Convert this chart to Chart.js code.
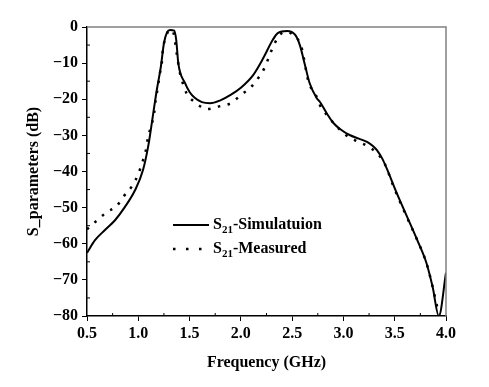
<!DOCTYPE html>
<html>
<head>
<meta charset="utf-8">
<script src="https://cdn.jsdelivr.net/npm/chart.js@4"></script>
<style>
  body { margin: 0; background: #fff; }
  #wrap { position: relative; width: 489px; height: 387px; }
  #chart { position: absolute; left: 0; top: 0; }
  .leg { position: absolute; left: 172px; font: bold 16px "Liberation Serif", "Times New Roman", serif; color: #000; white-space: nowrap; line-height: 20px; }
  .leg svg { vertical-align: middle; margin-right: 3px; }
  .leg sub { font-size: 11px; vertical-align: -4px; line-height: 0; }
</style>
</head>
<body>
<div id="wrap">
  <canvas id="chart" width="489" height="387"></canvas>
  <div class="leg" style="top:214px"><svg width="38" height="6"><line x1="1" y1="3" x2="37" y2="3" stroke="#000" stroke-width="2.2"/></svg>S<sub>21</sub>-Simulatuion</div>
  <div class="leg" style="top:238px"><svg width="38" height="6"><line x1="1" y1="3" x2="37" y2="3" stroke="#000" stroke-width="2.5" stroke-dasharray="2.5 10.5"/></svg>S<sub>21</sub>-Measured</div>
</div>
<script>
// simulated S21
const simFreq = [0.5, 0.578, 0.675, 0.773, 0.87, 0.968, 1.046, 1.1, 1.14, 1.18, 1.22, 1.25, 1.28, 1.31, 1.35, 1.37, 1.39, 1.455, 1.5, 1.55, 1.62, 1.70, 1.8, 1.9, 2.0, 2.12, 2.215, 2.31, 2.36, 2.45, 2.53, 2.575, 2.625, 2.67, 2.74, 2.77, 2.84, 2.90, 2.97, 3.06, 3.15, 3.23, 3.29, 3.33, 3.38, 3.42, 3.52, 3.62, 3.72, 3.81, 3.87, 3.93, 4.0];
const simDb = [-62.5, -59, -56.2, -53.5, -49.8, -45.2, -39.6, -32.5, -25, -17.5, -11, -4.5, -1.5, -0.8, -1.0, -3.6, -10, -15.5, -18, -19.6, -20.8, -21.1, -20.3, -18.8, -16.8, -13.3, -8.8, -3.6, -1.7, -1.1, -2.2, -5, -10.5, -15.5, -19.7, -20.7, -24, -26.5, -28.3, -29.9, -30.9, -31.8, -33, -34.2, -36.5, -39, -46, -52.5, -59, -65.4, -72, -80, -68];

// measured S21
const measFreq = [0.5, 0.6, 0.69, 0.79, 0.86, 0.94, 1.0, 1.04, 1.075, 1.095, 1.13, 1.155, 1.17, 1.19, 1.21, 1.23, 1.24, 1.26, 1.29, 1.32, 1.34, 1.38, 1.40, 1.43, 1.47, 1.56, 1.67, 1.80, 1.91, 2.0, 2.09, 2.17, 2.235, 2.28, 2.33, 2.39, 2.45, 2.51, 2.59, 2.66, 2.73, 2.77, 2.84, 2.93, 3.01, 3.11, 3.23, 3.33, 3.40, 3.49, 3.6, 3.72, 3.81, 3.87, 3.93];
const measDb = [-56, -53.5, -51.3, -49.5, -46.8, -44, -40.7, -37.4, -34, -30.5, -27, -23.8, -20.2, -16.8, -13, -9.7, -6.1, -3.6, -1.3, -0.8, -1.3, -8.3, -11.9, -15.2, -18.3, -21, -22.7, -21.9, -21, -18.8, -16.9, -14.1, -11.1, -7.8, -4.5, -1.9, -1.4, -2.2, -5.5, -15.2, -18.8, -21.6, -24.4, -27.4, -29.6, -31.3, -32.9, -35, -37.7, -44.3, -51.5, -59, -65.4, -72, -79.5];

const xTicks = [0.5, 1.0, 1.5, 2.0, 2.5, 3.0, 3.5, 4.0];
const yTicks = [0, -10, -20, -30, -40, -50, -60, -70, -80];

const font = { family: '"Liberation Serif", "Times New Roman", serif', size: 16, weight: 'bold' };

function pts(xs, ys) {
    return xs.map((x, i) => ({ x: x, y: ys[i] }));
}

// box edges and inward minor ticks
const frame = {
    id: 'frame',
    afterDraw(chart) {
        const ctx = chart.ctx;
        const a = chart.chartArea;
        const xs = chart.scales.x, ys = chart.scales.y;
        ctx.save();
        ctx.strokeStyle = '#808080';
        ctx.lineWidth = 1.5;
        ctx.beginPath();
        ctx.moveTo(a.left, a.top);
        ctx.lineTo(a.right, a.top);
        ctx.lineTo(a.right, a.bottom);
        ctx.stroke();
        ctx.strokeStyle = '#000';
        ctx.lineWidth = 1;
        ctx.beginPath();
        for (let i = 0; i < xTicks.length - 1; i++) {
            const px = xs.getPixelForValue((xTicks[i] + xTicks[i + 1]) / 2);
            ctx.moveTo(px, a.bottom);
            ctx.lineTo(px, a.bottom - 3);
        }
        for (let i = 0; i < yTicks.length - 1; i++) {
            const py = ys.getPixelForValue((yTicks[i] + yTicks[i + 1]) / 2);
            ctx.moveTo(a.left, py);
            ctx.lineTo(a.left + 3, py);
        }
        ctx.stroke();
        ctx.restore();
    }
};

new Chart(document.getElementById('chart'), {
    type: 'line',
    data: {
        datasets: [{
            label: 'S21-Simulatuion',
            data: pts(simFreq, simDb),
            borderColor: '#000',
            borderWidth: 2,
            pointRadius: 0,
            cubicInterpolationMode: 'monotone'
        }, {
            label: 'S21-Measured',
            data: pts(measFreq, measDb),
            borderColor: '#000',
            borderWidth: 2.5,
            borderDash: [2.5, 7.5],
            pointRadius: 0,
            cubicInterpolationMode: 'monotone'
        }]
    },
    options: {
        responsive: false,
        animation: false,
        layout: { padding: { top: 27, right: 43, bottom: 12, left: 24 } },
        plugins: { legend: { display: false }, tooltip: { enabled: false } },
        scales: {
            x: {
                type: 'linear',
                min: 0.5, max: 4.0,
                afterBuildTicks: s => { s.ticks = xTicks.map(v => ({ value: v })); },
                afterFit: s => { s.height = 59; },
                ticks: { color: '#000', font: font, padding: 3, maxRotation: 0, callback: v => v.toFixed(1) },
                grid: { drawOnChartArea: false, tickLength: 5, color: '#000', tickColor: '#000' },
                border: { color: '#000', width: 1.5 },
                title: { display: true, text: 'Frequency (GHz)', color: '#000', font: font, padding: { top: 0, bottom: 3 } }
            },
            y: {
                min: -80, max: 0,
                afterBuildTicks: s => { s.ticks = yTicks.map(v => ({ value: v })); },
                afterFit: s => { s.width = 63; },
                ticks: { color: '#000', font: font, padding: 4, callback: v => v === 0 ? '0' : '\u2212' + Math.abs(v) },
                grid: { drawOnChartArea: false, tickLength: 5, color: '#000', tickColor: '#000' },
                border: { color: '#000', width: 1.5 },
                title: { display: true, text: 'S_parameters (dB)', color: '#000', font: font, padding: { top: 0, bottom: 0 } }
            }
        }
    },
    plugins: [frame]
});
</script>
</body>
</html>
